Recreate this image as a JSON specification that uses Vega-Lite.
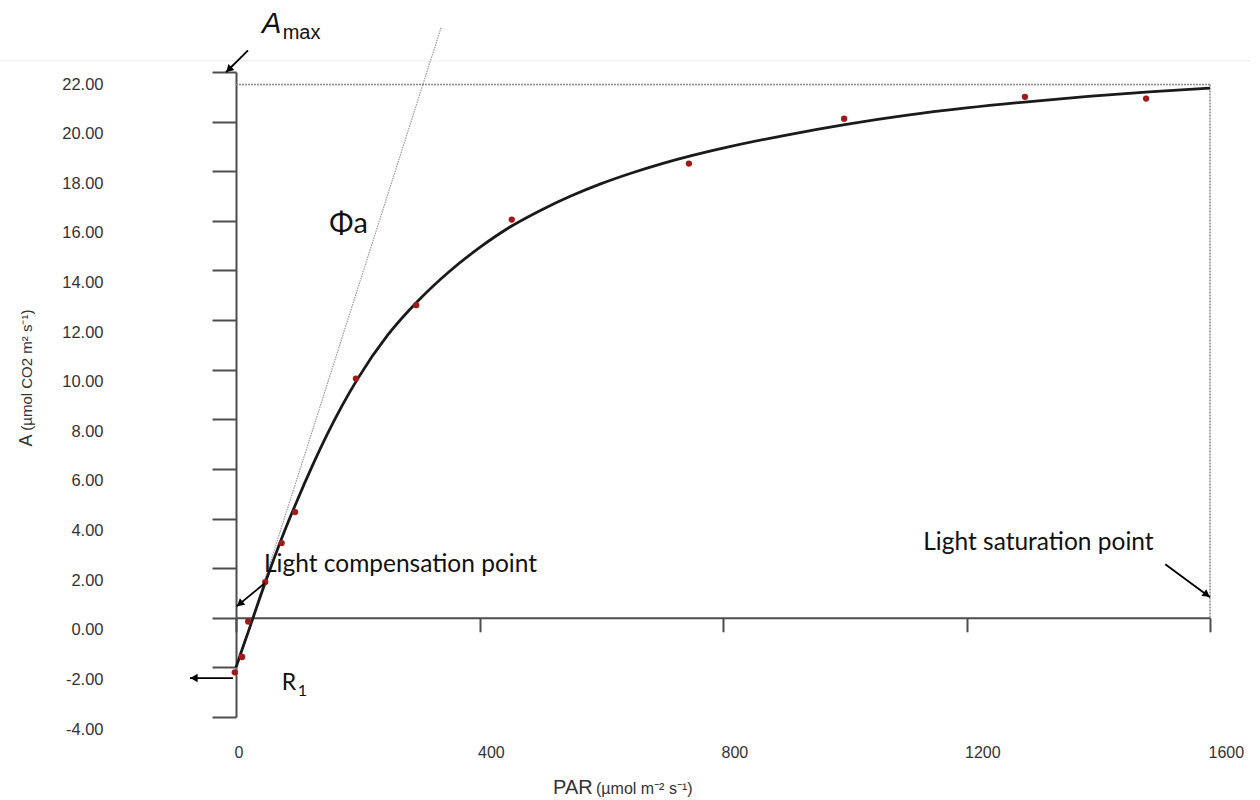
{
  "$schema": "https://vega.github.io/schema/vega-lite/v6.json",
  "width": 974,
  "height": 645,
  "autosize": {"type": "none"},
  "padding": {"left": 236, "top": 72, "right": 50, "bottom": 83},
  "background": "white",
  "config": {"view": {"stroke": null}, "axis": {"grid": false}},
  "datasets": {
    "curve": [
      {"P": 0, "A": -2.0}, {"P": 10, "A": -1.28}, {"P": 20, "A": -0.58}, {"P": 28, "A": 0.0},
      {"P": 50, "A": 1.55}, {"P": 75, "A": 3.2}, {"P": 100, "A": 4.7}, {"P": 125, "A": 6.1},
      {"P": 150, "A": 7.4}, {"P": 175, "A": 8.58}, {"P": 200, "A": 9.64}, {"P": 250, "A": 11.42},
      {"P": 300, "A": 12.8}, {"P": 350, "A": 13.95}, {"P": 400, "A": 14.92}, {"P": 450, "A": 15.75},
      {"P": 500, "A": 16.42}, {"P": 550, "A": 17.0}, {"P": 600, "A": 17.5}, {"P": 650, "A": 17.93},
      {"P": 700, "A": 18.31}, {"P": 750, "A": 18.64}, {"P": 800, "A": 18.93}, {"P": 900, "A": 19.44},
      {"P": 1000, "A": 19.88}, {"P": 1100, "A": 20.25}, {"P": 1200, "A": 20.55}, {"P": 1300, "A": 20.8},
      {"P": 1400, "A": 21.02}, {"P": 1500, "A": 21.2}, {"P": 1600, "A": 21.35}
    ],
    "obs": [
      {"P": -2, "A": -2.2}, {"P": 10, "A": -1.58}, {"P": 20, "A": -0.15}, {"P": 48, "A": 1.44},
      {"P": 75, "A": 3.01}, {"P": 97, "A": 4.26}, {"P": 197, "A": 9.64}, {"P": 296, "A": 12.6},
      {"P": 453, "A": 16.05}, {"P": 744, "A": 18.31}, {"P": 999, "A": 20.12}, {"P": 1296, "A": 21.0},
      {"P": 1495, "A": 20.93}
    ],
    "slope": [{"P": 0, "A": -2.1}, {"P": 337, "A": 23.8}],
    "arrows": [
      {"P": 19.7, "A": 22.87, "P2": -16.4, "A2": 21.99},
      {"P": 47.6, "A": 1.4, "P2": 1.1, "A2": 0.46},
      {"P": 1526.5, "A": 2.16, "P2": 1600, "A2": 0.83},
      {"P": -5, "A": -2.43, "P2": -75.6, "A2": -2.43}
    ],
    "minor": [{"P": 200}, {"P": 600}, {"P": 1000}, {"P": 1400}]
  },
  "encoding": {
    "x": {
      "field": "P", "type": "quantitative",
      "scale": {"domain": [0, 1600], "nice": false, "zero": false},
      "axis": {
        "title": null, "values": [0, 400, 800, 1200, 1600], "format": "d",
        "offset": -99.2, "domainColor": "#4d4d4d", "domainWidth": 2,
        "tickColor": "#4d4d4d", "tickWidth": 2, "tickSize": 14,
        "labelAlign": "left", "labelOffset": -2, "labelBaseline": "middle", "labelPadding": 121,
        "labelFont": "Liberation Sans", "labelFontSize": 16, "labelColor": "#333333"
      }
    },
    "y": {
      "field": "A", "type": "quantitative",
      "scale": {"domain": [-4, 22], "nice": false, "zero": false},
      "axis": {
        "title": null, "values": [-4, -2, 0, 2, 4, 6, 8, 10, 12, 14, 16, 18, 20, 22], "format": ".2f",
        "labelExpr": "replace(datum.label, '−', '-')",
        "domainColor": "#4d4d4d", "domainWidth": 2,
        "tickColor": "#4d4d4d", "tickWidth": 2, "tickSize": 24,
        "labelAlign": "right", "labelBaseline": "middle", "labelOffset": 12, "labelPadding": 109,
        "labelFont": "Liberation Sans", "labelFontSize": 16.5, "labelColor": "#333333"
      }
    }
  },
  "layer": [
    {
      "data": {"values": [{"P": -388, "P2": 1666, "A": 22.45}]},
      "mark": {"type": "rule", "color": "#ececec", "strokeWidth": 1},
      "encoding": {"x2": {"field": "P2"}}
    },
    {
      "data": {"values": [{"P": 0, "P2": 1600, "A": 21.5}]},
      "mark": {"type": "rule", "color": "#8a8a8a", "strokeWidth": 1.5, "strokeDash": [2, 1]},
      "encoding": {"x2": {"field": "P2"}}
    },
    {
      "data": {"values": [{"P": 1600, "A": 21.5, "A2": 0}]},
      "mark": {"type": "rule", "color": "#8a8a8a", "strokeWidth": 1.5, "strokeDash": [2, 1]},
      "encoding": {"y2": {"field": "A2"}}
    },
    {
      "data": {"name": "slope"},
      "mark": {"type": "line", "color": "#9a9a9a", "strokeWidth": 1.2, "strokeDash": [1.5, 1]}
    },
    {
      "data": {"name": "curve"},
      "mark": {"type": "line", "color": "#1a1a1a", "strokeWidth": 2.8, "interpolate": "monotone"}
    },
    {
      "data": {"name": "obs"},
      "mark": {"type": "point", "filled": true, "shape": "circle", "size": 40, "color": "#9e1b1b", "opacity": 1}
    },
    {
      "data": {"name": "minor"},
      "mark": {"type": "rule", "color": "#4d4d4d", "strokeWidth": 2},
      "encoding": {"y": {"datum": 0}, "y2": {"datum": -0.34}}
    },
    {
      "data": {"name": "arrows"},
      "mark": {"type": "rule", "color": "#000000", "strokeWidth": 1.8},
      "encoding": {"x2": {"field": "P2"}, "y2": {"field": "A2"}}
    },
    {
      "data": {"values": [{"P": -11.8, "A": 22.1}]},
      "mark": {"type": "point", "shape": "triangle-up", "filled": true, "color": "#000000", "size": 70, "angle": 225, "opacity": 1}
    },
    {
      "data": {"values": [{"P": 6.2, "A": 0.56}]},
      "mark": {"type": "point", "shape": "triangle-up", "filled": true, "color": "#000000", "size": 70, "angle": 230, "opacity": 1}
    },
    {
      "data": {"values": [{"P": 1594.7, "A": 0.93}]},
      "mark": {"type": "point", "shape": "triangle-up", "filled": true, "color": "#000000", "size": 70, "angle": 126, "opacity": 1}
    },
    {
      "data": {"values": [{"P": -69, "A": -2.43}]},
      "mark": {"type": "point", "shape": "triangle-up", "filled": true, "color": "#000000", "size": 70, "angle": 270, "opacity": 1}
    },
    {
      "data": {"values": [{"P": 42.7, "A": 23.59, "t": "A"}]},
      "mark": {"type": "text", "font": "Liberation Sans", "fontStyle": "italic", "fontSize": 29, "align": "left", "baseline": "alphabetic", "color": "#111111"},
      "encoding": {"text": {"field": "t"}}
    },
    {
      "data": {"values": [{"P": 76.7, "A": 23.34, "t": "max"}]},
      "mark": {"type": "text", "font": "Liberation Sans", "fontSize": 20, "align": "left", "baseline": "alphabetic", "color": "#111111"},
      "encoding": {"text": {"field": "t"}}
    },
    {
      "data": {"values": [{"P": 153.3, "A": 15.52, "t": "Φa"}]},
      "mark": {"type": "text", "font": "Lato", "fontSize": 29, "align": "left", "baseline": "alphabetic", "color": "#111111"},
      "encoding": {"text": {"field": "t"}}
    },
    {
      "data": {"values": [{"P": 46, "A": 1.85, "t": "Light compensation point"}]},
      "mark": {"type": "text", "font": "Lato", "fontSize": 24.5, "align": "left", "baseline": "alphabetic", "color": "#111111"},
      "encoding": {"text": {"field": "t"}}
    },
    {
      "data": {"values": [{"P": 1129, "A": 2.74, "t": "Light saturation point"}]},
      "mark": {"type": "text", "font": "Lato", "fontSize": 24.5, "align": "left", "baseline": "alphabetic", "color": "#111111"},
      "encoding": {"text": {"field": "t"}}
    },
    {
      "data": {"values": [{"P": 75, "A": -2.9, "t": "R"}]},
      "mark": {"type": "text", "font": "Lato", "fontSize": 23, "align": "left", "baseline": "alphabetic", "color": "#111111"},
      "encoding": {"text": {"field": "t"}}
    },
    {
      "data": {"values": [{"P": 101.4, "A": -3.15, "t": "1"}]},
      "mark": {"type": "text", "font": "Lato", "fontSize": 16, "align": "left", "baseline": "alphabetic", "color": "#111111"},
      "encoding": {"text": {"field": "t"}}
    },
    {
      "data": {"values": [{"P": 520.8, "A": -7.1, "t": "PAR"}]},
      "mark": {"type": "text", "font": "Liberation Sans", "fontSize": 20, "align": "left", "baseline": "alphabetic", "color": "#333333"},
      "encoding": {"text": {"field": "t"}}
    },
    {
      "data": {"values": [{"P": 591.4, "A": -7.1, "t": "(µmol m⁻² s⁻¹)"}]},
      "mark": {"type": "text", "font": "Liberation Sans", "fontSize": 16, "align": "left", "baseline": "alphabetic", "color": "#333333"},
      "encoding": {"text": {"field": "t"}}
    },
    {
      "data": {"values": [{"P": -335.6, "A": 6.9, "t": "A"}]},
      "mark": {"type": "text", "font": "Liberation Sans", "fontSize": 18, "angle": 270, "align": "left", "baseline": "alphabetic", "color": "#333333"},
      "encoding": {"text": {"field": "t"}}
    },
    {
      "data": {"values": [{"P": -335.6, "A": 7.54, "t": "(µmol CO2 m² s⁻¹)"}]},
      "mark": {"type": "text", "font": "Liberation Sans", "fontSize": 15, "angle": 270, "align": "left", "baseline": "alphabetic", "color": "#333333"},
      "encoding": {"text": {"field": "t"}}
    }
  ]
}
